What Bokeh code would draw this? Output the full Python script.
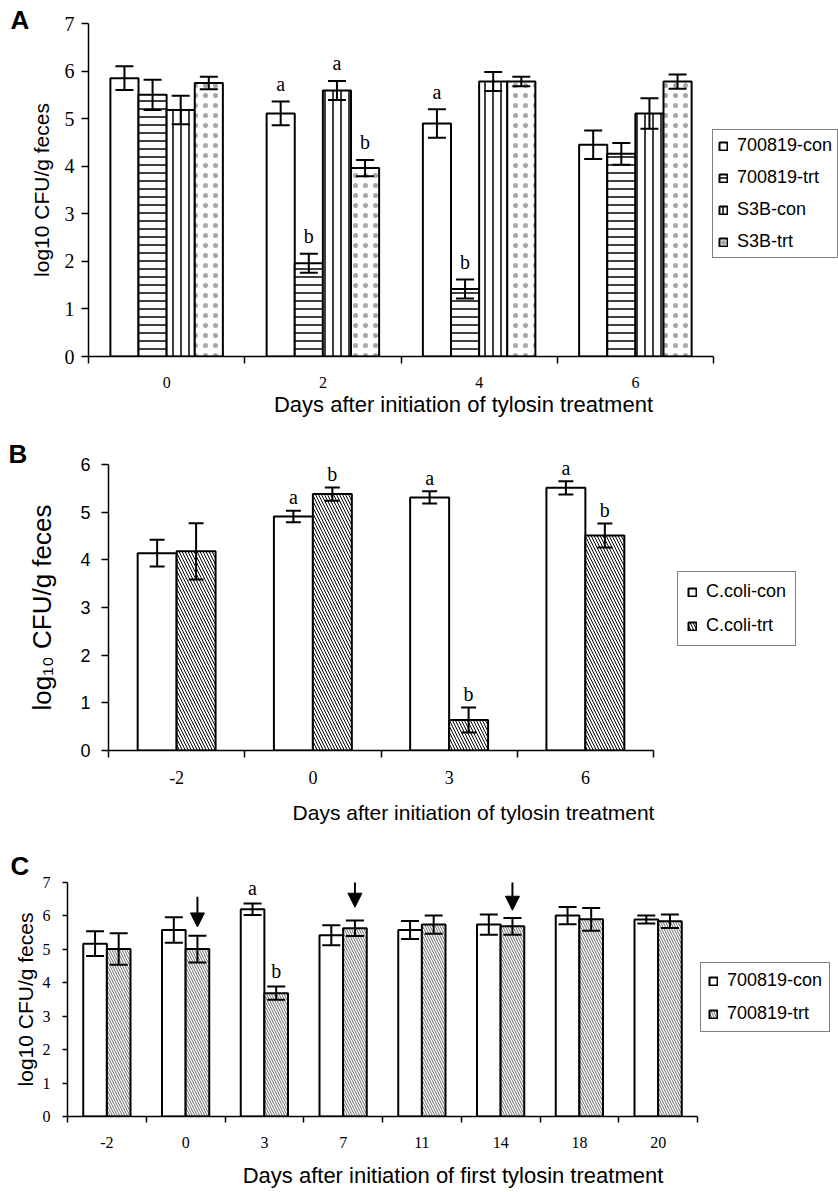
from bokeh.plotting import figure
from bokeh.models import (ColumnDataSource, Range1d, FixedTicker, Whisker, TeeHead,
                          Legend, LegendItem, Arrow, NormalHead)
from bokeh.embed import file_html
from bokeh.resources import INLINE
from bokeh.core.properties import value

SANS = "Liberation Sans"
SERIF = "Liberation Serif"

# ---------------- Panel A data ----------------
A_days = ["0", "2", "4", "6"]
A_names = ["700819-con", "700819-trt", "S3B-con", "S3B-trt"]
A_con = [5.85, 5.11, 4.90, 4.45]
A_con_err = [0.25, 0.25, 0.30, 0.30]
A_con_sig = ["", "a", "a", ""]
A_trt = [5.50, 1.96, 1.42, 4.26]
A_trt_err = [0.32, 0.20, 0.20, 0.23]
A_trt_sig = ["", "b", "b", ""]
A_s3b_con = [5.18, 5.59, 5.78, 5.11]
A_s3b_con_err = [0.30, 0.20, 0.20, 0.32]
A_s3b_con_sig = ["", "a", "", ""]
A_s3b_trt = [5.75, 3.96, 5.78, 5.78]
A_s3b_trt_err = [0.13, 0.17, 0.10, 0.15]
A_s3b_trt_sig = ["", "b", "", ""]

# ---------------- Panel B data ----------------
B_days = ["-2", "0", "3", "6"]
B_names = ["C.coli-con", "C.coli-trt"]
B_con = [4.14, 4.91, 5.31, 5.51]
B_con_err = [0.28, 0.12, 0.13, 0.14]
B_con_sig = ["", "a", "a", "a"]
B_trt = [4.18, 5.38, 0.64, 4.51]
B_trt_err = [0.59, 0.14, 0.26, 0.25]
B_trt_sig = ["", "b", "b", "b"]

# ---------------- Panel C data ----------------
C_days = ["-2", "0", "3", "7", "11", "14", "18", "20"]
C_names = ["700819-con", "700819-trt"]
C_con = [5.17, 5.58, 6.20, 5.42, 5.58, 5.74, 6.01, 5.89]
C_con_err = [0.37, 0.38, 0.17, 0.30, 0.27, 0.30, 0.26, 0.12]
C_con_sig = ["", "", "a", "", "", "", "", ""]
C_trt = [5.01, 5.01, 3.69, 5.63, 5.74, 5.69, 5.90, 5.84]
C_trt_err = [0.47, 0.40, 0.20, 0.23, 0.27, 0.25, 0.34, 0.20]
C_trt_sig = ["", "", "b", "", "", "", "", ""]
C_arrow_days = ["0", "7", "14"]
C_arrow_tip = [5.67, 6.26, 6.17]

W = 838


def build(days, series, offsets, bar_w, styles, cfg):
    n = len(days)
    p = figure(width=W, height=cfg["h"], output_backend="svg", toolbar_location=None,
               x_range=Range1d(-0.5, -0.5 + (W - cfg["bl"]) / cfg["cat"]),
               y_range=Range1d(0, cfg["ymax"]),
               min_border_left=cfg["bl"], min_border_right=0,
               min_border_top=cfg["bt"], min_border_bottom=cfg["bb"])
    p.outline_line_color = None
    p.xgrid.visible = False
    p.ygrid.visible = False
    p.background_fill_color = "white"
    p.border_fill_color = "white"

    # panel letter as the figure title
    p.title.text = cfg["letter"]
    p.title.align = "left"
    p.title.offset = cfg["letter_off"]
    p.title.standoff = cfg["letter_standoff"]
    p.title.text_font = SANS
    p.title.text_font_style = "bold"
    p.title.text_font_size = "26px"
    p.title.text_color = "black"

    items = []
    for (name, vals, errs, sig), off, st in zip(series, offsets, styles):
        xs = [i + off for i in range(n)]
        src = ColumnDataSource(dict(
            x=xs, top=vals,
            up=[v + e for v, e in zip(vals, errs)],
            lo=[v - e for v, e in zip(vals, errs)],
            sig=sig,
            ty=[v + e + cfg["sig_off"] for v, e in zip(vals, errs)],
        ))
        r = p.vbar(x="x", top="top", bottom=0, width=bar_w, source=src,
                   fill_color="white", line_color="black", line_width=2, **st)
        items.append(LegendItem(label=name, renderers=[r]))
        w = Whisker(base="x", upper="up", lower="lo", source=src, level="overlay",
                    line_color="black", line_width=2,
                    upper_head=TeeHead(size=cfg["cap"], line_width=2, line_color="black"),
                    lower_head=TeeHead(size=cfg["cap"], line_width=2, line_color="black"))
        p.add_layout(w)
        p.text(x="x", y="ty", text="sig", source=src, text_font=value(SERIF),
               text_font_size=value("20px"), text_align="center", text_baseline="middle",
               text_color="black")

    # x axis: labels at centres, tick marks at group boundaries
    xa = p.xaxis[0]
    xa.ticker = FixedTicker(ticks=list(range(n)), minor_ticks=[i - 0.5 for i in range(n + 1)])
    xa.major_label_overrides = {i: d for i, d in enumerate(days)}
    xa.bounds = (-0.5, n - 0.5)
    xa.major_tick_out = 0
    xa.major_tick_in = 0
    xa.minor_tick_out = cfg["xtick"]
    xa.minor_tick_in = 0
    xa.minor_tick_line_color = "black"
    xa.minor_tick_line_width = 1.5
    xa.axis_line_color = "black"
    xa.axis_line_width = 1.5
    xa.major_label_text_font = cfg["xfont"]
    xa.major_label_text_font_size = cfg["xfs"]
    xa.major_label_text_color = "black"
    xa.major_label_standoff = cfg["xls"]
    xa.axis_label = cfg["xlabel"]
    xa.axis_label_text_font = SANS
    xa.axis_label_text_font_size = cfg["xtfs"]
    xa.axis_label_text_font_style = "normal"
    xa.axis_label_text_color = "black"
    xa.axis_label_standoff = cfg["xas"]

    ya = p.yaxis[0]
    ya.ticker = FixedTicker(ticks=list(range(cfg["ymax"] + 1)))
    ya.minor_tick_line_color = None
    ya.major_tick_out = cfg["ytick"]
    ya.major_tick_in = 0
    ya.major_tick_line_color = "black"
    ya.major_tick_line_width = 1.5
    ya.axis_line_color = "black"
    ya.axis_line_width = 1.5
    ya.major_label_text_font = cfg["yfont"]
    ya.major_label_text_font_size = cfg["yfs"]
    ya.major_label_text_color = "black"
    ya.major_label_standoff = cfg["yls"]
    ya.axis_label = cfg["ylabel"]
    ya.axis_label_text_font = SANS
    ya.axis_label_text_font_size = cfg["ytfs"]
    ya.axis_label_text_font_style = "normal"
    ya.axis_label_text_color = "black"
    ya.axis_label_standoff = cfg["yas"]

    leg = Legend(items=items, location=cfg["leg_loc"], orientation="vertical",
                 border_line_color="black", border_line_width=1.5,
                 background_fill_color="white", background_fill_alpha=1.0,
                 padding=cfg["pad"], spacing=cfg["spacing"], margin=0,
                 label_text_font=SANS, label_text_font_size="18px",
                 label_text_color="black",
                 glyph_width=10, glyph_height=10, label_standoff=9, label_height=20)
    p.add_layout(leg)
    return p


sA = dict(hatch_pattern="horizontal_line", hatch_scale=8, hatch_weight=1.5, hatch_color="black")
sV = dict(hatch_pattern="vertical_line", hatch_scale=8, hatch_weight=1.5, hatch_color="black")
sD = dict(hatch_pattern="dot", hatch_scale=10, hatch_weight=1, hatch_color="black", hatch_alpha=0.35)

pA = build(
    A_days,
    [(A_names[0], A_con, A_con_err, A_con_sig),
     (A_names[1], A_trt, A_trt_err, A_trt_sig),
     (A_names[2], A_s3b_con, A_s3b_con_err, A_s3b_con_sig),
     (A_names[3], A_s3b_trt, A_s3b_trt_err, A_s3b_trt_sig)],
    [-0.27, -0.09, 0.09, 0.27], 0.18, [{}, sA, sV, sD],
    dict(h=420, bl=88, bt=23, bb=64, cat=156.25, ymax=7, sig_off=0.37, cap=18,
         xtick=7, xfont=SERIF, xfs="16px", xls=13, xlabel="Days after initiation of tylosin treatment",
         xtfs="22px", xas=1, ytick=7, yfont=SERIF, yfs="20px", yls=7,
         ylabel="log10 CFU/g feces", ytfs="21px", yas=9,
         leg_loc=(624, 98), pad=5, spacing=11,
         letter="A", letter_off=-78, letter_standoff=-22))

sB = dict(hatch_pattern="left_diagonal_line", hatch_scale=6, hatch_weight=1, hatch_color="black")
pB = build(
    B_days,
    [(B_names[0], B_con, B_con_err, B_con_sig),
     (B_names[1], B_trt, B_trt_err, B_trt_sig)],
    [-0.143, 0.143], 0.286, [{}, sB],
    dict(h=410, bl=108, bt=44, bb=80, cat=136.25, ymax=6, sig_off=0.28, cap=15,
         xtick=7, xfont=SERIF, xfs="18px", xls=13, xlabel="Days after initiation of tylosin treatment",
         xtfs="21px", xas=14, ytick=7, yfont=SANS, yfs="18px", yls=11,
         ylabel="log\u2081\u2080 CFU/g feces", ytfs="26px", yas=20,
         leg_loc=(569, 104), pad=9, spacing=13,
         letter="B", letter_off=-100, letter_standoff=-9))

sC = dict(hatch_pattern="left_diagonal_line", hatch_scale=5, hatch_weight=0.8, hatch_color="#444444")
pC = build(
    C_days,
    [(C_names[0], C_con, C_con_err, C_con_sig),
     (C_names[1], C_trt, C_trt_err, C_trt_sig)],
    [-0.15, 0.15], 0.30, [{}, sC],
    dict(h=360, bl=67, bt=52, bb=71, cat=78.75, ymax=7, sig_off=0.47, cap=18,
         xtick=6, xfont=SERIF, xfs="16px", xls=14, xlabel="Days after initiation of first tylosin treatment",
         xtfs="22px", xas=12, ytick=5, yfont=SERIF, yfs="16px", yls=12,
         ylabel="log10 CFU/g feces", ytfs="21px", yas=3,
         leg_loc=(633, 84), pad=7, spacing=12,
         letter="C", letter_off=-57, letter_standoff=3))

for d, tip in zip(C_arrow_days, C_arrow_tip):
    xi = C_days.index(d) + 0.15
    pC.add_layout(Arrow(x_start=xi, y_start=tip + 0.9, x_end=xi, y_end=tip,
                        line_color="black", line_width=2,
                        end=NormalHead(size=14, fill_color="black", line_color="black")))

open("out.html", "w").write(file_html([pA, pB, pC], INLINE))
